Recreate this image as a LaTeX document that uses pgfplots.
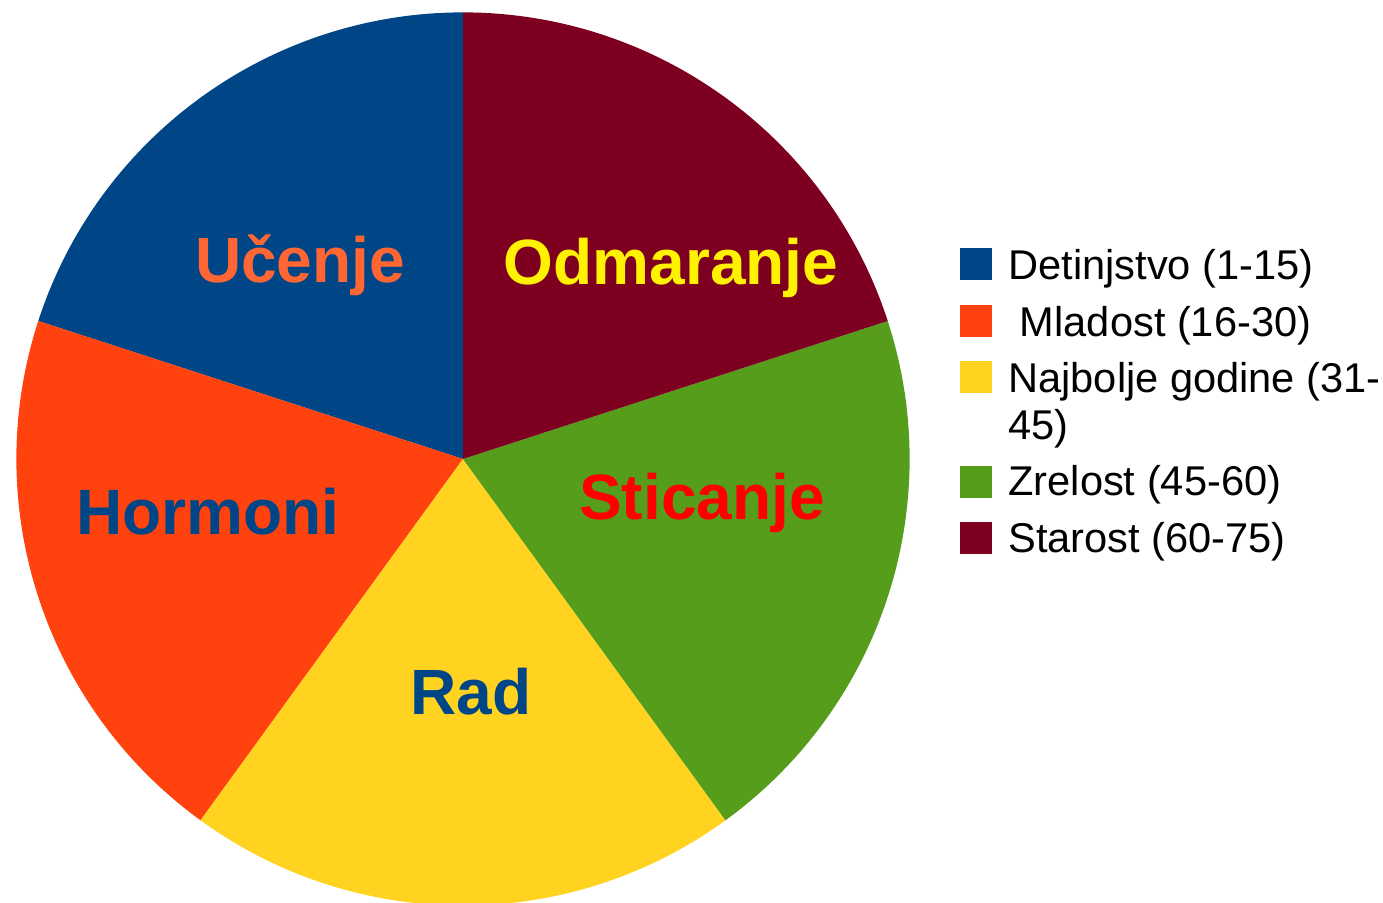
\documentclass[border=0pt]{standalone}
\usepackage{fontspec}
\setmainfont{Liberation Sans}
\usepackage{pgfplots}
\pgfplotsset{compat=1.18}
\definecolor{cDet}{HTML}{004586}
\definecolor{cMla}{HTML}{FF420E}
\definecolor{cNaj}{HTML}{FFD320}
\definecolor{cZre}{HTML}{579D1C}
\definecolor{cSta}{HTML}{7E0021}
\definecolor{lUce}{HTML}{FF6633}
\begin{document}
\begin{tikzpicture}
\useasboundingbox (0,0) rectangle (691.5pt,451.5pt);
\begin{axis}[hide axis, scale only axis, width=691.5pt, height=451.5pt,
  xmin=0, xmax=1383, ymin=0, ymax=903, clip=true]
\def\a{90}
\pgfplotsforeachungrouped \v/\c in {20/cDet, 20/cMla, 20/cNaj, 20/cZre, 20/cSta}{%
  \pgfmathsetmacro\b{\a+\v*3.6}%
  \edef\temp{\noexpand\fill[\c] (axis cs:463,444) -- ([shift={(\a:223.3pt)}]axis cs:463,444) arc[start angle=\a, end angle=\b, radius=223.3pt] -- cycle;}%
  \temp
  \global\let\a\b
}
% slice labels
\begin{scope}[every node/.style={font=\bfseries\fontsize{32}{36}\selectfont, anchor=base}]
\node[text=lUce] at (axis cs:300,620) {Učenje};
\node[text=yellow] at (axis cs:671,618) {Odmaranje};
\node[text=cDet] at (axis cs:208,368) {Hormoni};
\node[text=red] at (axis cs:702,383) {Sticanje};
\node[text=cDet] at (axis cs:471,188) {Rad};
\end{scope}
% legend
\fill[cDet] (axis cs:960,655) rectangle (axis cs:992,623);
\fill[cMla] (axis cs:960,598) rectangle (axis cs:992,566);
\fill[cNaj] (axis cs:960,542) rectangle (axis cs:992,510);
\fill[cZre] (axis cs:960,437) rectangle (axis cs:992,405);
\fill[cSta] (axis cs:960,381) rectangle (axis cs:992,349);
\begin{scope}[every node/.style={font=\fontsize{20.8}{24}\selectfont, anchor=base west, inner sep=0pt}]
\node at (axis cs:1008,623) {Detinjstvo (1-15)};
\node at (axis cs:1008,566) {\ Mladost (16-30)};
\node at (axis cs:1008,510) {Najbolje godine (31-};
\node at (axis cs:1008,463) {45)};
\node at (axis cs:1008,407) {Zrelost (45-60)};
\node at (axis cs:1008,350) {Starost (60-75)};
\end{scope}
\end{axis}
\end{tikzpicture}
\end{document}
